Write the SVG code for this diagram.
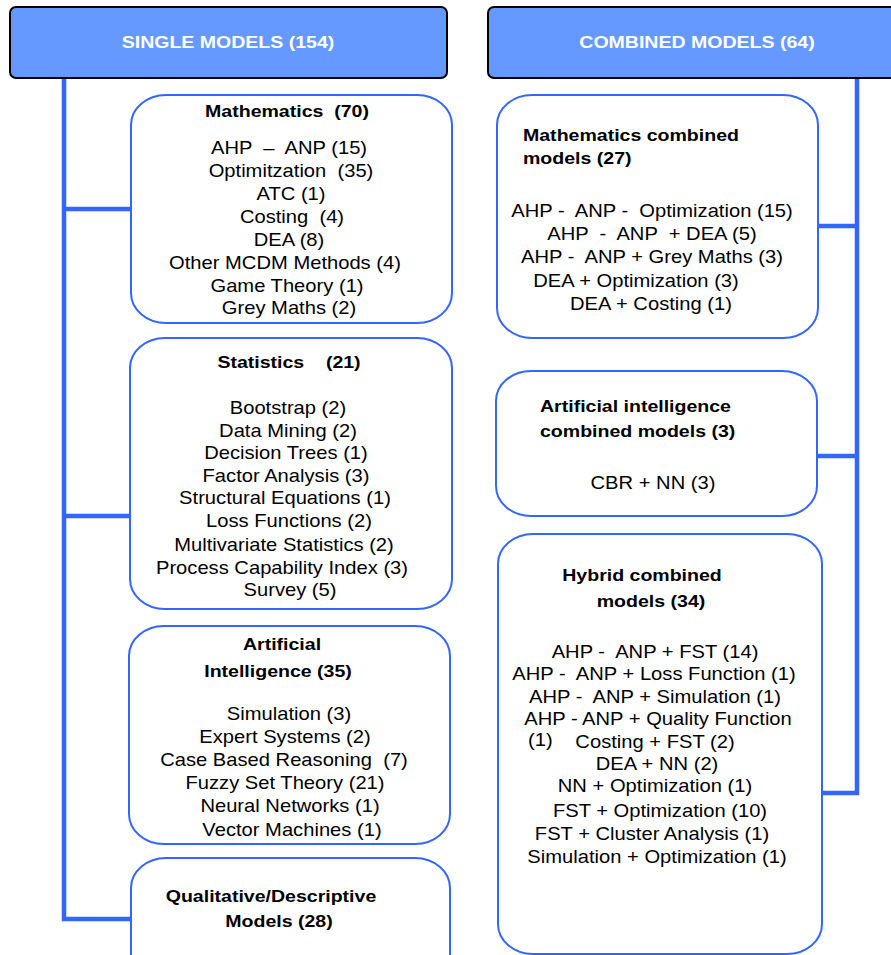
<svg xmlns="http://www.w3.org/2000/svg" width="891" height="955" viewBox="0 0 891 955">
<style>
.hdr{fill:#6699FF;stroke:#000;stroke-width:2}
.box{fill:#fff;stroke:#3366FF;stroke-width:2}
.con{fill:none;stroke:#3366FF;stroke-width:4.5;stroke-linejoin:miter}
text{font-family:"Liberation Sans",Arial,sans-serif;fill:#000;white-space:pre}
.h{font-size:17px;font-weight:bold;fill:#fff;text-anchor:middle}
.t{font-size:17px;font-weight:bold}
.i{font-size:18px}
.m{text-anchor:middle}
</style>
<rect width="891" height="955" fill="#fff"/>
<g id="connectors">
<path class="con" d="M64,78 V919 H131 M64,209 H131 M64,516 H130"/>
<path class="con" d="M857,78 V793 H822 M857,226 H817 M857,456 H817"/>
</g>
<g id="single-models">
<rect class="hdr" x="10" y="7" width="437" height="71" rx="6"/>
<text class="h" transform="translate(228,48) scale(1.15,1)">SINGLE MODELS (154)</text>
</g>
<g id="combined-models">
<rect class="hdr" x="488" y="7" width="420" height="71" rx="6"/>
<text class="h" transform="translate(697,48) scale(1.15,1)">COMBINED MODELS (64)</text>
</g>
<g id="mathematics">
<rect class="box" x="131" y="95" width="321" height="228" rx="35" ry="30"/>
<text class="t m" transform="translate(287,117) scale(1.15,1)">Mathematics  (70)</text>
<text class="i m" transform="translate(289,154) scale(1.12,1)">AHP  –  ANP (15)</text>
<text class="i m" transform="translate(291,177) scale(1.12,1)">Optimitzation  (35)</text>
<text class="i m" transform="translate(291,200) scale(1.12,1)">ATC (1)</text>
<text class="i m" transform="translate(292,223) scale(1.12,1)">Costing  (4)</text>
<text class="i m" transform="translate(289,246) scale(1.12,1)">DEA (8)</text>
<text class="i m" transform="translate(285,269) scale(1.12,1)">Other MCDM Methods (4)</text>
<text class="i m" transform="translate(287,292) scale(1.12,1)">Game Theory (1)</text>
<text class="i m" transform="translate(289,314) scale(1.12,1)">Grey Maths (2)</text>
</g>
<g id="statistics">
<rect class="box" x="130" y="338" width="322" height="271" rx="35" ry="30"/>
<text class="t m" transform="translate(289,368) scale(1.15,1)">Statistics    (21)</text>
<text class="i m" transform="translate(288,414) scale(1.12,1)">Bootstrap (2)</text>
<text class="i m" transform="translate(288,437) scale(1.12,1)">Data Mining (2)</text>
<text class="i m" transform="translate(286,459) scale(1.12,1)">Decision Trees (1)</text>
<text class="i m" transform="translate(286,482) scale(1.12,1)">Factor Analysis (3)</text>
<text class="i m" transform="translate(285,504) scale(1.12,1)">Structural Equations (1)</text>
<text class="i m" transform="translate(289,527) scale(1.12,1)">Loss Functions (2)</text>
<text class="i m" transform="translate(284,551) scale(1.12,1)">Multivariate Statistics (2)</text>
<text class="i m" transform="translate(282,574) scale(1.12,1)">Process Capability Index (3)</text>
<text class="i m" transform="translate(290,596) scale(1.12,1)">Survey (5)</text>
</g>
<g id="artificial-intelligence">
<rect class="box" x="129" y="626" width="321" height="218" rx="35" ry="30"/>
<text class="t m" transform="translate(282,650) scale(1.15,1)">Artificial</text>
<text class="t m" transform="translate(278,677) scale(1.15,1)">Intelligence (35)</text>
<text class="i m" transform="translate(289,720) scale(1.12,1)">Simulation (3)</text>
<text class="i m" transform="translate(285,743) scale(1.12,1)">Expert Systems (2)</text>
<text class="i m" transform="translate(284,766) scale(1.12,1)">Case Based Reasoning  (7)</text>
<text class="i m" transform="translate(285,789) scale(1.12,1)">Fuzzy Set Theory (21)</text>
<text class="i m" transform="translate(290,812) scale(1.12,1)">Neural Networks (1)</text>
<text class="i m" transform="translate(292,836) scale(1.12,1)">Vector Machines (1)</text>
</g>
<g id="qualitative">
<rect class="box" x="131" y="858" width="319" height="130" rx="35" ry="30"/>
<text class="t m" transform="translate(271,902) scale(1.15,1)">Qualitative/Descriptive</text>
<text class="t m" transform="translate(279,927) scale(1.15,1)">Models (28)</text>
</g>
<g id="mathematics-combined">
<rect class="box" x="497" y="95" width="321" height="243" rx="35" ry="30"/>
<text class="t" transform="translate(523,141) scale(1.15,1)">Mathematics combined</text>
<text class="t" transform="translate(523,164) scale(1.15,1)">models (27)</text>
<text class="i m" transform="translate(652,217) scale(1.12,1)">AHP -  ANP -  Optimization (15)</text>
<text class="i m" transform="translate(652,240) scale(1.12,1)">AHP  -  ANP  + DEA (5)</text>
<text class="i m" transform="translate(652,263) scale(1.12,1)">AHP -  ANP + Grey Maths (3)</text>
<text class="i m" transform="translate(636,287) scale(1.12,1)">DEA + Optimization (3)</text>
<text class="i m" transform="translate(651,310) scale(1.12,1)">DEA + Costing (1)</text>
</g>
<g id="ai-combined">
<rect class="box" x="496" y="371" width="321" height="145" rx="35" ry="30"/>
<text class="t" transform="translate(540,412) scale(1.15,1)">Artificial intelligence</text>
<text class="t" transform="translate(540,437) scale(1.15,1)">combined models (3)</text>
<text class="i m" transform="translate(653,489) scale(1.12,1)">CBR + NN (3)</text>
</g>
<g id="hybrid-combined">
<rect class="box" x="498" y="534" width="324" height="420" rx="35" ry="30"/>
<text class="t m" transform="translate(642,581) scale(1.15,1)">Hybrid combined</text>
<text class="t m" transform="translate(651,607) scale(1.15,1)">models (34)</text>
<text class="i m" transform="translate(655,658) scale(1.12,1)">AHP -  ANP + FST (14)</text>
<text class="i m" transform="translate(654,680) scale(1.12,1)">AHP -  ANP + Loss Function (1)</text>
<text class="i m" transform="translate(655,703) scale(1.12,1)">AHP -  ANP + Simulation (1)</text>
<text class="i m" transform="translate(658,725) scale(1.12,1)">AHP - ANP + Quality Function</text>
<text class="i" transform="translate(528,746) scale(1.12,1)">(1)</text>
<text class="i m" transform="translate(655,748) scale(1.12,1)">Costing + FST (2)</text>
<text class="i m" transform="translate(657,770) scale(1.12,1)">DEA + NN (2)</text>
<text class="i m" transform="translate(655,792) scale(1.12,1)">NN + Optimization (1)</text>
<text class="i m" transform="translate(660,817) scale(1.12,1)">FST + Optimization (10)</text>
<text class="i m" transform="translate(652,840) scale(1.12,1)">FST + Cluster Analysis (1)</text>
<text class="i m" transform="translate(657,863) scale(1.12,1)">Simulation + Optimization (1)</text>
</g>
</svg>
